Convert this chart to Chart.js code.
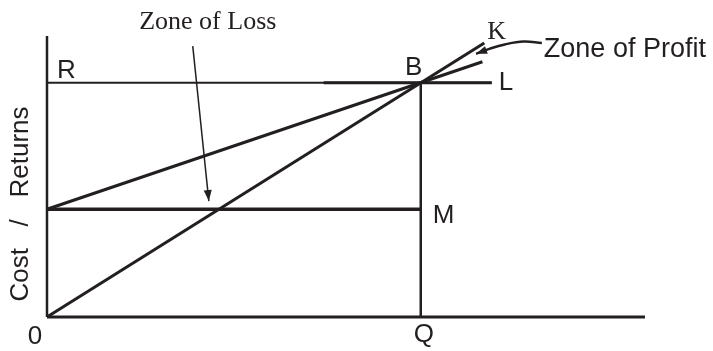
<!DOCTYPE html>
<html>
<head>
<meta charset="utf-8">
<script src="https://cdn.jsdelivr.net/npm/chart.js@4/dist/chart.umd.min.js"></script>
<style>
    html, body { margin: 0; padding: 0; background: #fff; }
    #wrap { width: 713px; height: 351px; position: relative; }
</style>
</head>
<body>
<div id="wrap"><canvas id="beChart"></canvas></div>
<script>
// Break-even chart: output on x, cost / returns on y (arbitrary units)
const X_MAX = 16;
const Y_MAX = 120;

const xAxisLine = [{ x: 0, y: 0 }, { x: 16, y: 0 }];
const yAxisLine = [{ x: 0, y: 0 }, { x: 0, y: 120 }];

// Sales revenue line 0 -> K, total cost line (fixed cost 46) -> L
const salesLine = [{ x: 0, y: 0 }, { x: 11.7, y: 117 }];
const costLine = [{ x: 0, y: 46 }, { x: 11.65, y: 109 }];

// R level through B, Q vertical, fixed cost level M
const rLine = [{ x: 0, y: 100 }, { x: 11.9, y: 100 }];
const rLineHeavy = [{ x: 7.4, y: 100 }, { x: 11.9, y: 100 }];
const qLine = [{ x: 10, y: 0 }, { x: 10, y: 100 }];
const mLine = [{ x: 0, y: 46 }, { x: 10, y: 46 }];

// Pointer arrows
const lossArrow = [{ x: 3.9, y: 115.7 }, { x: 4.33, y: 49.5 }];
const profitArrow = [
    { x: 13.24, y: 117 }, { x: 12.75, y: 117.6 }, { x: 12.25, y: 116.4 },
    { x: 11.85, y: 114.6 }, { x: 11.48, y: 112.4 }
];

const INK = '#231f20';
const SANS = '"Liberation Sans", Arial, sans-serif';
const SERIF = '"Liberation Serif", "Times New Roman", serif';

function lineSet(data, width) {
    return {
        data,
        showLine: true,
        borderColor: INK,
        borderWidth: width,
        pointRadius: 0,
        fill: false,
        clip: false,
        tension: 0
    };
}

// Text labels and arrowheads, placed from the scales
const labelPlugin = {
    id: 'labels',
    afterDatasetsDraw(chart) {
        const { ctx, scales: { x, y }, chartArea } = chart;
        const px = v => x.getPixelForValue(v);
        const py = v => y.getPixelForValue(v);

        ctx.save();
        ctx.fillStyle = INK;
        ctx.textBaseline = 'alphabetic';

        const put = (text, cx, cy, font, align) => {
            ctx.font = font;
            ctx.textAlign = align;
            ctx.fillText(text, cx, cy);
        };

        put('R', px(0) + 10, py(100) - 5, `26px ${SANS}`, 'left');
        put('B', px(10) - 7, py(100) - 8, `26px ${SANS}`, 'center');
        put('K', px(salesLine[1].x) + 3, py(salesLine[1].y) - 4, `26px ${SERIF}`, 'left');
        put('L', px(rLine[1].x) + 7, py(rLine[1].y) + 7, `26px ${SANS}`, 'left');
        put('M', px(10) + 12, py(46) + 14, `26px ${SANS}`, 'left');
        put('Q', px(10) + 3, py(0) + 25, `26px ${SANS}`, 'center');
        put('0', px(0) - 12, py(0) + 27, `26px ${SANS}`, 'center');
        put('Zone of Loss', px(lossArrow[0].x) + 15, py(lossArrow[0].y) - 17, `26px ${SERIF}`, 'center');
        put('Zone of Profit', px(profitArrow[0].x) + 2, py(profitArrow[0].y) + 14, `27px ${SANS}`, 'left');

        // y axis title
        ctx.save();
        ctx.translate(chartArea.left - 19, chartArea.bottom - 113);
        ctx.rotate(-Math.PI / 2);
        put('Cost   /   Returns', 0, 0, `26px ${SANS}`, 'center');
        ctx.restore();

        // arrowheads
        const head = (pts) => {
            const a = pts[pts.length - 2], b = pts[pts.length - 1];
            const x1 = px(a.x), y1 = py(a.y), x2 = px(b.x), y2 = py(b.y);
            const ang = Math.atan2(y2 - y1, x2 - x1);
            const len = 11, half = 4;
            ctx.beginPath();
            ctx.moveTo(x2, y2);
            ctx.lineTo(x2 - len * Math.cos(ang) + half * Math.sin(ang), y2 - len * Math.sin(ang) - half * Math.cos(ang));
            ctx.lineTo(x2 - len * Math.cos(ang) - half * Math.sin(ang), y2 - len * Math.sin(ang) + half * Math.cos(ang));
            ctx.closePath();
            ctx.fill();
        };
        head(lossArrow);
        head(profitArrow);

        ctx.restore();
    }
};

new Chart(document.getElementById('beChart'), {
    type: 'scatter',
    data: {
        datasets: [
            lineSet(xAxisLine, 3),
            lineSet(yAxisLine, 2.5),
            lineSet(salesLine, 3),
            lineSet(costLine, 3),
            lineSet(rLine, 2),
            lineSet(rLineHeavy, 3),
            lineSet(qLine, 2.5),
            lineSet(mLine, 3.5),
            lineSet(lossArrow, 1.5),
            { ...lineSet(profitArrow, 2.5), tension: 0.4 }
        ]
    },
    options: {
        responsive: true,
        maintainAspectRatio: false,
        animation: false,
        layout: { padding: { left: 47, right: 68, top: 36, bottom: 34 } },
        plugins: {
            legend: { display: false },
            tooltip: { enabled: false }
        },
        scales: {
            x: { type: 'linear', min: 0, max: X_MAX, display: false },
            y: { type: 'linear', min: 0, max: Y_MAX, display: false }
        }
    },
    plugins: [labelPlugin]
});
</script>
</body>
</html>
